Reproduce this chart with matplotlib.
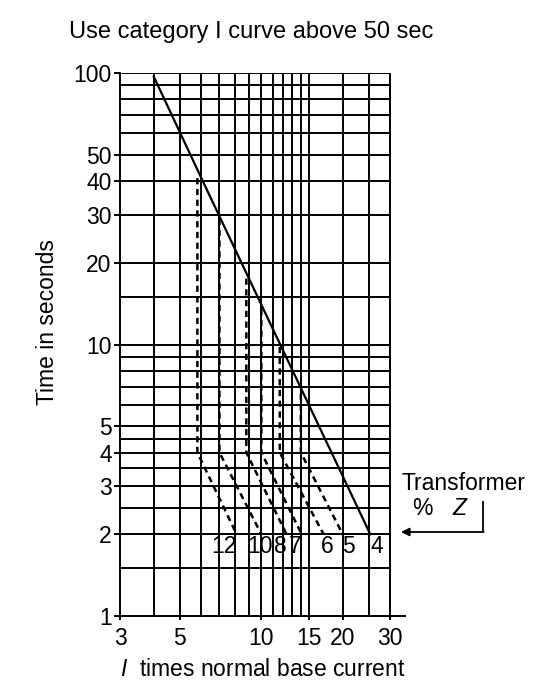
import numpy as np
import matplotlib.pyplot as plt

plt.rcParams['font.family'] = ['Liberation Sans', 'DejaVu Sans']
plt.rcParams['mathtext.fontset'] = 'custom'
plt.rcParams['mathtext.it'] = 'Liberation Sans:italic'
plt.rcParams['mathtext.rm'] = 'Liberation Sans'

# category I curve (times base current, seconds)
curve_current = [4.0, 6.0, 11.8, 25.3]
curve_time = [97, 41, 9.9, 2.0]

# frequent-fault dog legs for each transformer %Z
pct_z = ['12', '10', '8', '7', '6', '5']
knee_current = [5.8, 7.0, 8.8, 10.0, 11.7, 14.0]
top_time = [41, 29, 17.5, 13.5, 9.8, 6.6]
knee_time = [4.0, 4.0, 4.0, 4.0, 4.0, 4.0]
end_current = [8.1, 10.0, 12.4, 14.1, 17.0, 20.0]
end_time = [2.0, 2.0, 2.0, 2.0, 2.0, 2.0]

# where the %Z numbers sit under the 2 s line
label_text = ['12', '10', '8', '7', '6', '5', '4']
label_x = [7.3, 9.9, 11.8, 13.3, 17.6, 21.0, 26.8]

# log paper grid
grid_x = [4, 5, 6, 7, 8, 9, 10, 11, 12, 13, 14, 15, 20, 25, 30]
grid_y = [1.5, 2, 2.5, 3, 3.5, 4, 4.5, 5, 6, 7, 8, 9, 10, 15, 20, 30, 40, 50, 60, 70, 80, 90, 100]
xticks = [3, 5, 10, 15, 20, 30]
yticks = [1, 2, 3, 4, 5, 10, 20, 30, 40, 50, 100]

fig = plt.figure(figsize=(5.36, 6.88), dpi=100)
ax = fig.add_axes([120/536, 1 - 616/688, 285/536, 543/688])
ax.set_xscale('log')
ax.set_yscale('log')
ax.set_xlim(3, 34)
ax.set_ylim(1, 100)

ax.vlines(grid_x, 1, 100, color='black', lw=1.4)
ax.hlines(grid_y, 3, 30, color='black', lw=1.4)

ax.plot(curve_current, curve_time, color='black', lw=1.6)
for i in range(len(pct_z)):
    ax.plot([knee_current[i], knee_current[i], end_current[i]],
            [top_time[i], knee_time[i], end_time[i]],
            color='black', lw=1.8, ls=(0, (2.5, 1.8)))

for x, s in zip(label_x, label_text):
    ax.text(x, 1.8, s, ha='center', va='center', fontsize=16.5)

ax.spines['top'].set_visible(False)
ax.spines['right'].set_visible(False)
ax.spines['left'].set_linewidth(1.4)
ax.spines['bottom'].set_linewidth(1.4)
ax.minorticks_off()
ax.set_xticks(xticks, labels=[str(v) for v in xticks])
ax.set_yticks(yticks, labels=[str(v) for v in yticks])
ax.tick_params(axis='both', labelsize=16.5, width=1.4, color='black')
ax.tick_params(axis='y', length=4, pad=2)
ax.tick_params(axis='x', length=3, pad=5)

ax.set_ylabel('Time in seconds', fontsize=16.5)
ax.yaxis.set_label_coords(-0.215, 0.541)
ax.set_xlabel('$I$  times normal base current', fontsize=16.5, labelpad=6)

fig.text(251.5/536, 1 - 38/688, 'Use category I curve above 50 sec',
         ha='center', va='baseline', fontsize=17)

# transformer %Z call-out
fig.text(401/536, 1 - 490/688, 'Transformer', va='baseline', fontsize=16.5)
fig.text(412/536, 1 - 515/688, '%', va='baseline', fontsize=16.5)
fig.text(452/536, 1 - 515/688, 'Z', va='baseline', fontsize=16.5, style='italic')
fig.add_artist(plt.Line2D([483/536, 483/536], [1 - 502/688, 1 - 532/688],
                          color='black', lw=1.3))
ax.annotate('', xy=(401/536, 1 - 532/688), xycoords='figure fraction',
            xytext=(483.6/536, 1 - 532/688), textcoords='figure fraction',
            arrowprops=dict(arrowstyle='-|>', color='black', lw=1.3,
                            mutation_scale=12, shrinkA=0, shrinkB=0))

fig.savefig('out.png', dpi=100)
